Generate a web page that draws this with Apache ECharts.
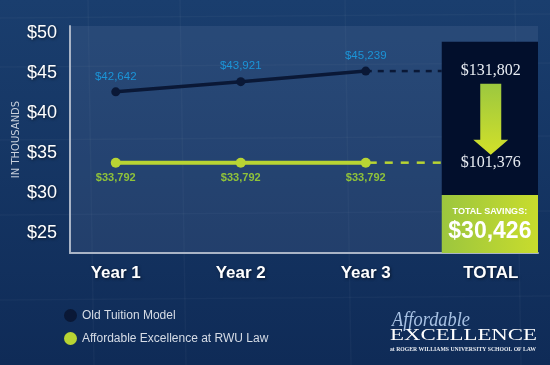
<!DOCTYPE html>
<html><head><meta charset="utf-8">
<script src="https://cdn.jsdelivr.net/npm/echarts@6/dist/echarts.min.js"></script>
<style>html,body{margin:0;padding:0;background:#143563;}#c{width:550px;height:365px;}</style>
</head><body><div id="c"></div>
<script>
// ---- data ----
const categories = ['Year 1', 'Year 2', 'Year 3', 'TOTAL'];
const oldTuition = [42642, 43921, 45239];
const rwuTuition = [33792, 33792, 33792];
const yTicks = [25, 30, 35, 40, 45, 50];
const seriesNames = ['Old Tuition Model', 'Affordable Excellence at RWU Law'];
const yAxisTitle = 'IN THOUSANDS';
const savingsTitle = 'TOTAL SAVINGS:';

// ---- derived ----
const sum = a => a.reduce((s, v) => s + v, 0);
const oldTotal = sum(oldTuition);
const rwuTotal = sum(rwuTuition);
const savings = oldTotal - rwuTotal;
const money = v => '$' + Math.round(v).toLocaleString('en-US');
const K = v => v / 1000;

// layout constants
const X_MIN = 0.634, X_MAX = 4.378, BOX_LEFT = 3.608, TOTAL_X = 4;
const Y_MIN = 22.5, Y_MAX = 50.875, BOX_TOP = 48.91, BOX_SPLIT = 29.75;

const SANS = "'Liberation Sans', Arial, sans-serif";
const SERIF = "'Liberation Serif', 'DejaVu Serif', serif";
const shadow = { textShadowColor: 'rgba(0,0,0,0.55)', textShadowBlur: 3, textShadowOffsetX: 1, textShadowOffsetY: 1 };

const OLD_COLOR = '#0a1836';
const GREEN = '#b8d433';

const oldData = oldTuition.map((v, i) => [i + 1, K(v)]);
const rwuData = rwuTuition.map((v, i) => [i + 1, K(v)]);
const oldLast = K(oldTuition[oldTuition.length - 1]);
const rwuLast = K(rwuTuition[rwuTuition.length - 1]);
const lastX = oldTuition.length;

// logo text helpers
const mctx = document.createElement('canvas').getContext('2d');
function fit(text, font, w) { mctx.font = font; return w / mctx.measureText(text).width; }
const fA = "italic 20px " + SERIF, fE = "17px " + SERIF, fS = "bold 5.5px " + SERIF;
const tA = 'Affordable', tE = 'EXCELLENCE', tS = 'at ROGER WILLIAMS UNIVERSITY SCHOOL OF LAW';

const bgLines = [];
[88, 180, 345, 515].forEach(x => bgLines.push({ type: 'line', silent: true, z: -5, shape: { x1: x, y1: 0, x2: x + 6, y2: 365 }, style: { stroke: 'rgba(255,255,255,0.03)', lineWidth: 1.5 } }));
[18, 67, 140, 215, 300].forEach(y => bgLines.push({ type: 'line', silent: true, z: -5, shape: { x1: 0, y1: y, x2: 550, y2: y - 4 }, style: { stroke: 'rgba(255,255,255,0.03)', lineWidth: 1.5 } }));

const chart = echarts.init(document.getElementById('c'), null, { renderer: 'canvas' });
chart.setOption({
  animation: false,
  backgroundColor: new echarts.graphic.LinearGradient(0, 0, 0, 1, [
    { offset: 0, color: '#1a3e6e' }, { offset: 1, color: '#0f2b57' }
  ]),
  grid: { left: 70, right: 12, top: 26, bottom: 112, show: true, borderWidth: 0,
    backgroundColor: 'rgba(130,150,190,0.15)' },
  legend: {
    data: seriesNames, orient: 'vertical', left: 64, top: 309, padding: 0,
    icon: 'circle', itemWidth: 13, itemHeight: 13, itemGap: 10,
    textStyle: { color: '#d6dce6', fontSize: 12, fontFamily: SANS },
    selectedMode: false
  },
  xAxis: {
    type: 'value', min: X_MIN, max: X_MAX,
    axisLine: { show: true, onZero: false, lineStyle: { color: '#a9b4c6', width: 2 } },
    axisTick: { show: false }, splitLine: { show: false },
    axisLabel: {
      customValues: categories.map((c, i) => i + 1),
      formatter: v => categories[Math.round(v) - 1],
      color: '#ffffff', fontSize: 17, fontWeight: 'bold', fontFamily: SANS, margin: 12, ...shadow
    }
  },
  yAxis: {
    type: 'value', min: Y_MIN, max: Y_MAX,
    name: yAxisTitle, nameLocation: 'middle', nameRotate: 90, nameGap: 49, nameMoveOverlap: false,
    nameTextStyle: { color: '#c8d0dc', fontSize: 10, fontFamily: "'DejaVu Sans', sans-serif" },
    axisLine: { show: true, onZero: false, lineStyle: { color: '#a9b4c6', width: 2 } },
    axisTick: { show: false }, splitLine: { show: false },
    axisLabel: {
      customValues: yTicks, formatter: v => '$' + v,
      color: '#ffffff', fontSize: 18, fontFamily: SANS, margin: 13, ...shadow
    }
  },
  graphic: bgLines.concat([
    { type: 'text', x: 392, y: 321, scaleX: fit(tA, fA, 78), silent: true,
      style: { text: tA, font: fA, fill: '#a7c1e3', align: 'left', verticalAlign: 'middle' } },
    { type: 'text', x: 390, y: 336, scaleX: fit(tE, fE, 147), silent: true,
      style: { text: tE, font: fE, fill: '#ffffff', align: 'left', verticalAlign: 'middle' } },
    { type: 'text', x: 390, y: 349.5, scaleX: fit(tS, fS, 146), silent: true,
      style: { text: tS, font: fS, fill: '#e8ecf2', align: 'left', verticalAlign: 'middle' } }
  ]),
  series: [
    {
      name: seriesNames[0], type: 'line', data: oldData, z: 3,
      symbol: 'circle', symbolSize: 9, itemStyle: { color: OLD_COLOR },
      lineStyle: { color: OLD_COLOR, width: 3.5 },
      emphasis: { disabled: true },
      label: { show: true, position: 'top', distance: 5, formatter: p => money(p.value[1] * 1000),
        color: '#1b95d8', fontSize: 11.5, fontFamily: SANS }
    },
    {
      name: seriesNames[1], type: 'line', data: rwuData, z: 3,
      symbol: 'circle', symbolSize: 10, itemStyle: { color: GREEN },
      lineStyle: { color: GREEN, width: 4 },
      emphasis: { disabled: true },
      label: { show: true, position: 'bottom', distance: 5, formatter: p => money(p.value[1] * 1000),
        color: '#8fc23a', fontSize: 11, fontWeight: 'bold', fontFamily: SANS }
    },
    {
      name: 'oldDash', type: 'line', data: [[lastX, oldLast], [BOX_LEFT, oldLast]], z: 2,
      symbol: 'none', silent: true, emphasis: { disabled: true },
      lineStyle: { color: OLD_COLOR, width: 2.5, type: [6, 6], dashOffset: 0 },
      markArea: {
        silent: true,
        data: [
          [{ coord: [BOX_LEFT, BOX_TOP], itemStyle: { color: '#020f2c' } }, { coord: [X_MAX, BOX_SPLIT] }],
          [{ coord: [BOX_LEFT, BOX_SPLIT],
             itemStyle: { color: new echarts.graphic.LinearGradient(0, 0, 1, 0, [
               { offset: 0, color: '#9cc63e' }, { offset: 1, color: '#c8dc2d' }]) },
             label: { show: true, position: 'inside',
               formatter: '{a|' + savingsTitle + '}\n{b|' + money(savings) + '}',
               rich: {
                 a: { fontFamily: SANS, fontWeight: 'bold', fontSize: 9, color: '#ffffff', lineHeight: 15, align: 'center' },
                 b: { fontFamily: SANS, fontWeight: 'bold', fontSize: 23, color: '#ffffff', lineHeight: 24, align: 'center' }
               } } },
           { coord: [X_MAX, Y_MIN] }]
        ]
      },
      markPoint: {
        silent: true,
        data: [
          { coord: [TOTAL_X, oldLast], symbol: 'circle', symbolSize: 1, itemStyle: { color: 'transparent' },
            label: { show: true, position: 'inside', formatter: money(oldTotal), color: '#e9edf3', fontSize: 16, fontFamily: SERIF } },
          { coord: [TOTAL_X, rwuLast], symbol: 'circle', symbolSize: 1, itemStyle: { color: 'transparent' },
            label: { show: true, position: 'inside', formatter: money(rwuTotal), color: '#e9edf3', fontSize: 16, fontFamily: SERIF } },
          { coord: [TOTAL_X, (oldLast + rwuLast) / 2 - 0.3],
            symbol: 'path://M7,0 L28,0 L28,56 L35,56 L17.5,71 L0,56 L7,56 Z', symbolSize: [35, 71],
            symbolKeepAspect: false,
            itemStyle: { color: new echarts.graphic.LinearGradient(0, 0, 0, 1, [
              { offset: 0, color: '#9cc83f' }, { offset: 1, color: '#d2e02a' }]) },
            label: { show: false } }
        ]
      }
    },
    {
      name: 'rwuDash', type: 'line', data: [[lastX, rwuLast], [BOX_LEFT, rwuLast]], z: 2,
      symbol: 'none', silent: true, emphasis: { disabled: true },
      lineStyle: { color: GREEN, width: 2.5, type: [8, 8], dashOffset: -3 }
    }
  ]
});
</script>
</body></html>
